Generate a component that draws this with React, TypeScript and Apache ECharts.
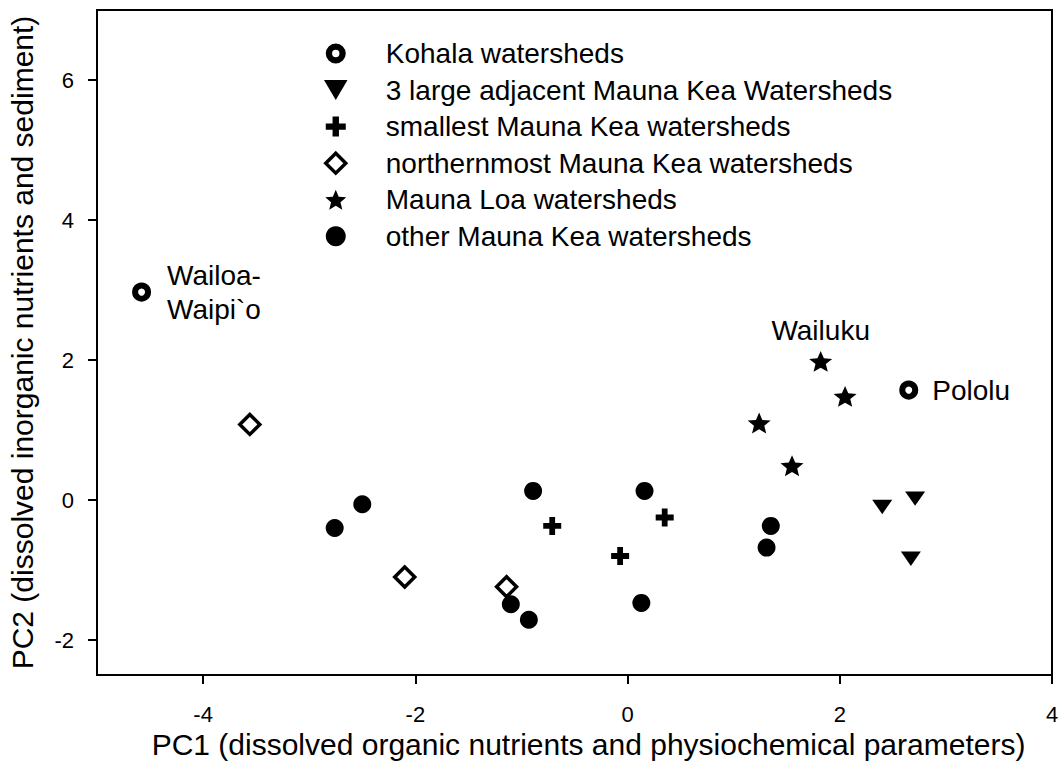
import React, { useEffect, useRef } from "react";
import * as echarts from "echarts";

const FONT = '"Liberation Sans", Arial, Helvetica, sans-serif';

const xTicks = [-4, -2, 0, 2, 4];
const yTicks = [-2, 0, 2, 4, 6];

const seriesNames = [
  "Kohala watersheds",
  "3 large adjacent Mauna Kea Watersheds",
  "smallest Mauna Kea watersheds",
  "northernmost Mauna Kea watersheds",
  "Mauna Loa watersheds",
  "other Mauna Kea watersheds",
];

const kohala = [
  [-4.58, 2.97],
  [2.65, 1.57],
];
const kohalaLabels = ["Wailoa-\nWaipi`o", "Pololu"];

const largeMaunaKea = [
  [2.4, -0.1],
  [2.71, 0.02],
  [2.67, -0.84],
];

const smallestMaunaKea = [
  [-0.71, -0.37],
  [0.35, -0.25],
  [-0.07, -0.8],
];

const northernMaunaKea = [
  [-3.56, 1.08],
  [-2.1, -1.1],
  [-1.14, -1.24],
];

const maunaLoa = [
  [1.82, 1.98],
  [2.05, 1.48],
  [1.24, 1.1],
  [1.55, 0.49],
];
const maunaLoaLabels = ["Wailuku", "", "", ""];

const otherMaunaKea = [
  [-2.76, -0.4],
  [-2.5, -0.06],
  [-0.89, 0.13],
  [0.16, 0.13],
  [1.35, -0.37],
  [1.31, -0.68],
  [-1.1, -1.49],
  [-0.93, -1.71],
  [0.13, -1.47],
];

const TRI = "path://M0,0L20,0L10,17Z";
const PLUS = "path://M34,0H66V34H100V66H66V100H34V66H0V34H34Z";
const STAR =
  "path://M50,0L63.23,31.8L97.55,34.55L71.4,56.95L79.39,90.45L50,72.5L20.61,90.45L28.6,56.95L2.45,34.55L36.77,31.8Z";
const RING =
  "path://M10,0A10,10 0 1,1 10,20A10,10 0 1,1 10,0ZM10,6.3A3.7,3.7 0 1,0 10,13.7A3.7,3.7 0 1,0 10,6.3Z";
const DIAMOND = "path://M10,0L20,10L10,20L0,10Z";

export default function App() {
  const ref = useRef<HTMLDivElement>(null);

  useEffect(() => {
    if (!ref.current) return;
    const chart = echarts.init(ref.current, undefined, { renderer: "svg" });

    const labelStyle = {
      fontSize: 28,
      color: "#000",
      fontFamily: FONT,
    };

    const option: any = {
      animation: false,
      backgroundColor: "#fff",
      textStyle: { fontFamily: FONT, color: "#000" },
      grid: {
        left: 97,
        right: 8,
        top: 10,
        bottom: 86,
        show: true,
        borderColor: "#000",
        borderWidth: 2,
        backgroundColor: "transparent",
        containLabel: false,
        outerBoundsMode: "none",
      },
      xAxis: {
        type: "value",
        min: -5,
        max: 4,
        name: "PC1 (dissolved organic nutrients and physiochemical parameters)",
        nameLocation: "middle",
        nameGap: 52,
        nameTextStyle: {
          fontSize: 30,
          color: "#000",
          fontFamily: FONT,
          padding: [0, 0, 0, 28],
        },
        axisLine: { show: true, onZero: false, lineStyle: { color: "#000", width: 2 } },
        axisTick: {
          show: true,
          inside: false,
          length: 9,
          customValues: xTicks,
          lineStyle: { color: "#000", width: 2 },
        },
        axisLabel: {
          customValues: xTicks,
          fontSize: 22,
          color: "#000",
          fontFamily: FONT,
          margin: 28,
        },
        splitLine: { show: false },
      },
      yAxis: {
        type: "value",
        min: -2.5,
        max: 7,
        name: "PC2 (dissolved inorganic nutrients and sediment)",
        nameLocation: "middle",
        nameGap: 60,
        nameTextStyle: {
          fontSize: 30,
          color: "#000",
          fontFamily: FONT,
        },
        axisLine: { show: true, onZero: false, lineStyle: { color: "#000", width: 2 } },
        axisTick: {
          show: true,
          inside: false,
          length: 9,
          customValues: yTicks,
          lineStyle: { color: "#000", width: 2 },
        },
        axisLabel: {
          customValues: yTicks,
          fontSize: 22,
          color: "#000",
          fontFamily: FONT,
          margin: 23,
        },
        splitLine: { show: false },
      },
      legend: {
        orient: "vertical",
        align: "left",
        left: 324,
        top: 39.5,
        padding: 0,
        itemWidth: 90,
        itemHeight: 20,
        itemGap: 8.55,
        selectedMode: false,
        symbolKeepAspect: true,
        itemStyle: { borderWidth: "inherit" },
        data: [
          { name: seriesNames[0], icon: RING, itemStyle: { color: "#000", borderWidth: 0 } },
          seriesNames[1],
          seriesNames[2],
          { name: seriesNames[3], icon: DIAMOND, itemStyle: { borderWidth: 3.5 } },
          seriesNames[4],
          seriesNames[5],
        ],
        textStyle: { fontSize: 28, color: "#000", fontFamily: FONT },
      },
      series: [
        {
          name: seriesNames[0],
          type: "scatter",
          symbol: "circle",
          symbolSize: 13,
          symbolKeepAspect: true,
          itemStyle: { color: "#fff", borderColor: "#000", borderWidth: 6, opacity: 1 },
          data: kohala.map((p, i) => ({
            value: p,
            label: {
              show: true,
              position: "right",
              distance: i === 0 ? 16 : 14,
              formatter: kohalaLabels[i],
              lineHeight: 34,
              align: "left",
              ...labelStyle,
            },
          })),
        },
        {
          name: seriesNames[1],
          type: "scatter",
          symbol: TRI,
          symbolSize: [20, 17],
          symbolKeepAspect: true,
          itemStyle: { color: "#000", opacity: 1 },
          data: largeMaunaKea,
        },
        {
          name: seriesNames[2],
          type: "scatter",
          symbol: PLUS,
          symbolSize: 18,
          symbolKeepAspect: true,
          itemStyle: { color: "#000", opacity: 1 },
          data: smallestMaunaKea,
        },
        {
          name: seriesNames[3],
          type: "scatter",
          symbol: "diamond",
          symbolSize: 20,
          symbolKeepAspect: true,
          itemStyle: { color: "#fff", borderColor: "#000", borderWidth: 3.5, opacity: 1 },
          data: northernMaunaKea,
        },
        {
          name: seriesNames[4],
          type: "scatter",
          symbol: STAR,
          symbolSize: [23, 22],
          symbolKeepAspect: true,
          itemStyle: { color: "#000", opacity: 1 },
          data: maunaLoa.map((p, i) =>
            maunaLoaLabels[i]
              ? {
                  value: p,
                  label: {
                    show: true,
                    position: "top",
                    distance: 6,
                    formatter: maunaLoaLabels[i],
                    lineHeight: 28,
                    ...labelStyle,
                  },
                }
              : { value: p }
          ),
        },
        {
          name: seriesNames[5],
          type: "scatter",
          symbol: "circle",
          symbolSize: 18,
          symbolKeepAspect: true,
          itemStyle: { color: "#000", opacity: 1 },
          data: otherMaunaKea,
        },
      ],
    };

    chart.setOption(option);
    return () => chart.dispose();
  }, []);

  return (
    <div
      ref={ref}
      style={{ position: "fixed", left: 0, top: 0, width: 1060, height: 761, background: "#fff" }}
    />
  );
}
